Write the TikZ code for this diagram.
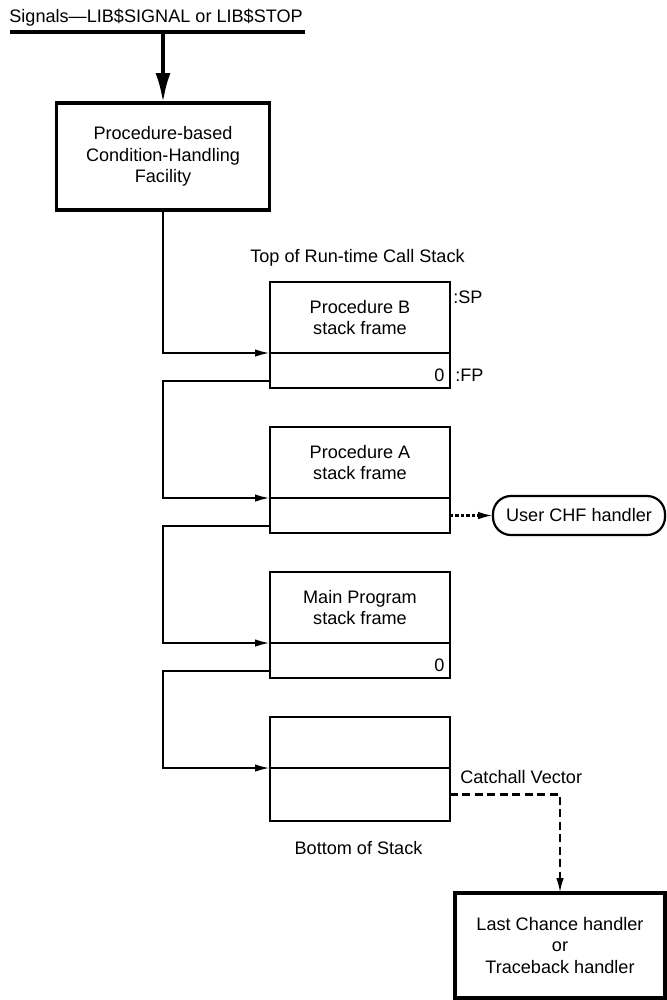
\documentclass[tikz,border=0pt]{standalone}
\usepackage{fontspec}
\setmainfont{Liberation Sans}
\usetikzlibrary{arrows.meta}
\usetikzlibrary{positioning}
\tikzset{>={Latex[length=0.3cm,width=0.15cm]}}
\tikzset{
    frametop/.style={draw, line width=1.25pt, outer sep=0pt, inner sep=0pt,
        minimum width=3.6cm, minimum height=1.42cm, align=center},
    framelow/.style={draw, line width=1.25pt, outer sep=0pt, inner sep=0pt,
        minimum width=3.6cm, minimum height=0.7cm},
    bigbox/.style={draw, line width=2.2pt, outer sep=0pt, align=center},
    userbox/.style={draw, line width=1.25pt, rounded corners=0.36cm, outer sep=0pt,
        minimum width=3.44cm, minimum height=0.78cm},
    zero/.style={label={[anchor=east, inner sep=3pt, yshift=-0.1cm]east:0}},
    link/.style={->, line width=1.25pt},
    dotlink/.style={->, line width=1.25pt, dash pattern=on 1.8pt off 1.3pt},
    dashlink/.style={->, line width=1.25pt, dash pattern=on 4.5pt off 2.6pt},
}

\begin{document}
\begin{tikzpicture}[font=\fontsize{10.3}{12.4}\selectfont]
    \useasboundingbox (0,0) rectangle (13.34,-20);
    % Signal bar and the condition-handling facility.
    \node[anchor=base west, inner sep=0pt] (sig) at (0.18,-0.44) {Signals---LIB\$SIGNAL or LIB\$STOP};
    \coordinate (sigl) at (0.2,-0.64);
    \coordinate (sigr) at (6.1,-0.64);
    \draw[line width=2.2pt] (sigl) -- (sigr);
    \node[bigbox, minimum width=4.26cm, minimum height=2.14cm] (chf) at (3.26,-3.13)
        {Procedure-based\\Condition-Handling\\Facility};
    \draw[-{Latex[length=0.6cm,width=0.3cm]}, line width=2.2pt] (chf.north |- sigl) -- (chf.north);

    % The run-time call stack, top to bottom.
    \node (toplabel) at (7.15,-5.16) {Top of Run-time Call Stack};
    \node[frametop] (pbtop) at (7.2,-6.35) {Procedure B\\stack frame};
    \node[framelow, zero, below=0pt of pbtop] (pblow) {};
    \node[anchor=west, inner sep=0pt] (sp) at (9.06,-5.94) {:SP};
    \node[anchor=west, inner sep=0pt] (fp) at (9.1,-7.5) {:FP};

    \node[frametop, below=0.78cm of pblow] (patop) {Procedure A\\stack frame};
    \node[framelow, below=0pt of patop] (palow) {};

    \node[frametop, below=0.78cm of palow] (mptop) {Main Program\\stack frame};
    \node[framelow, zero, below=0pt of mptop] (mplow) {};

    \node[frametop, minimum height=1.02cm, below=0.78cm of mplow] (botop) {};
    \node[framelow, minimum height=1.06cm, below=0pt of botop] (bolow) {};
    \node (botlabel) at (7.17,-16.96) {Bottom of Stack};
    \node[anchor=west, inner sep=0pt] (catch) at (9.2,-15.54) {Catchall Vector};

    % Handlers.
    \node[userbox, right=0.86cm of palow] (user) {User CHF handler};
    \node[bigbox, minimum width=4.2cm, minimum height=2.1cm] (last) at (11.2,-18.91)
        {Last Chance handler\\or\\Traceback handler};

    % Walk down the stack.
    \draw[link] (chf.south) |- (pbtop.south west);
    \draw[link] ([yshift=0.14cm]pblow.south west) -- ++(-2.14,0) |- (patop.south west);
    \draw[link] ([yshift=0.14cm]palow.south west) -- ++(-2.14,0) |- (mptop.south west);
    \draw[link] ([yshift=0.14cm]mplow.south west) -- ++(-2.14,0) |- (botop.south west);
    \draw[dotlink] (palow.east) -- (user.west);
    \draw[dashlink] (bolow.east) -| (last.north);
\end{tikzpicture}
\end{document}
